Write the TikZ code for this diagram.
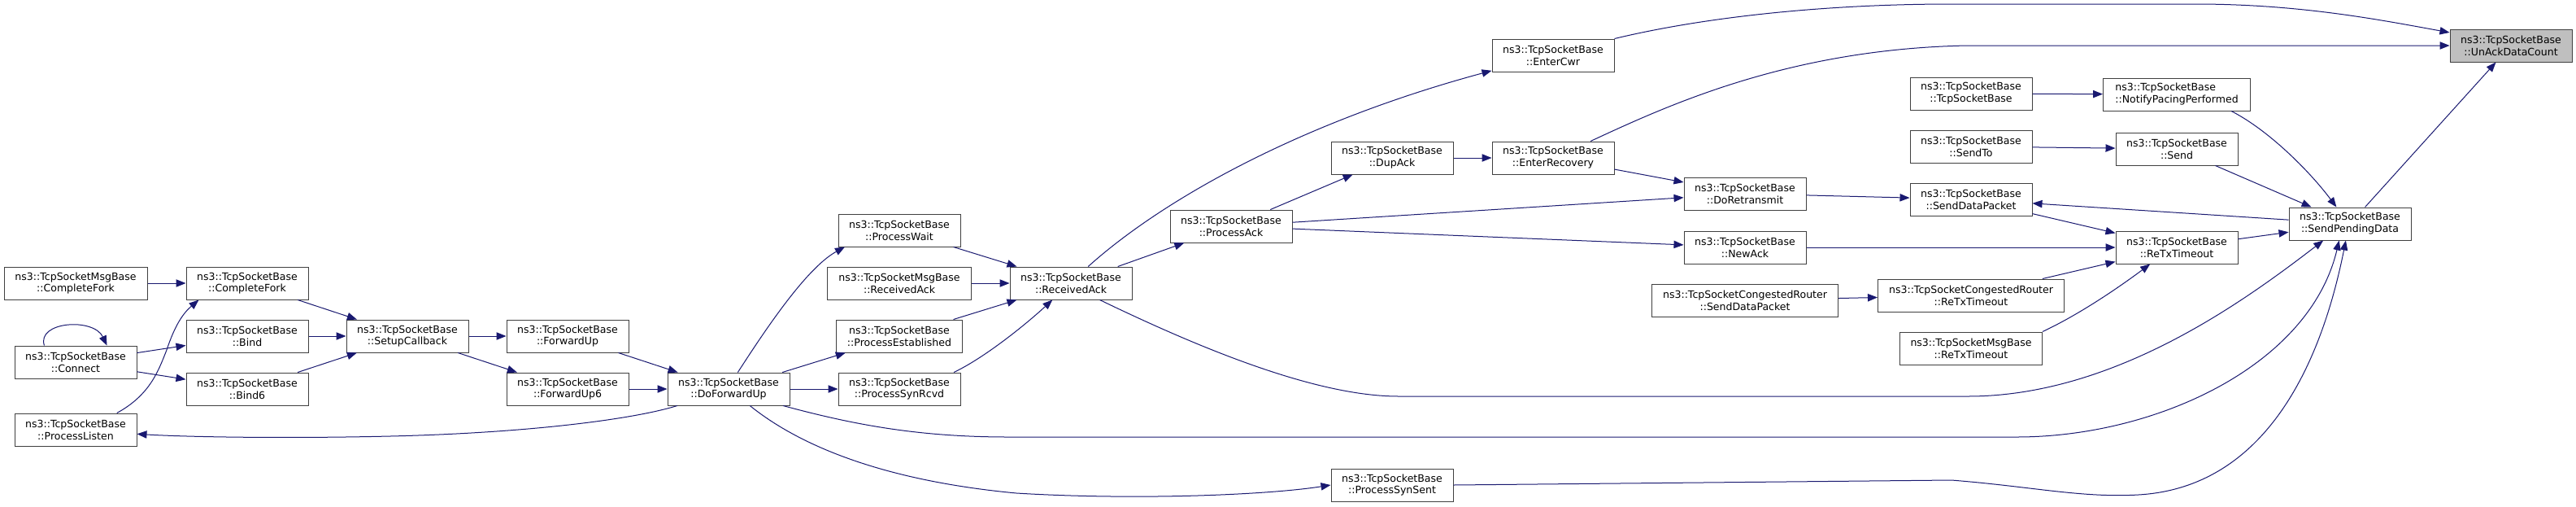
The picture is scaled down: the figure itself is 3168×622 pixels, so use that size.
\documentclass[tikz,border=0pt]{standalone}
\usepackage{fontspec}
\setmainfont{DejaVu Sans}
\usepackage{tikz}
\usetikzlibrary{arrows.meta}
\definecolor{edgeblue}{HTML}{191970}
\definecolor{boxline}{HTML}{404040}
\definecolor{focusgray}{HTML}{BFBFBF}

\begin{document}
\begin{tikzpicture}[x=0.75pt,y=-0.75pt,
	fn/.style={draw=boxline,line width=0.75pt,fill=white,minimum width=112.5pt,minimum height=30pt,inner sep=0pt,align=center,font=\fontsize{9.4}{11.2}\selectfont},
	boxw/.style={minimum width=#1*0.75pt},
	call/.style={draw=edgeblue,line width=0.75pt,-{Triangle[length=9pt,width=7pt]}}]
	\useasboundingbox (0,0) rectangle (3168,622);
	
	%left column
	\node[fn,boxw=176] (msgcompletefork) at (93,348) {ns3::TcpSocketMsgBase\\::CompleteFork};
	\node[fn] (connect) at (93,445) {ns3::TcpSocketBase\\::Connect};
	\node[fn] (processlisten) at (93,528) {ns3::TcpSocketBase\\::ProcessListen};
	\node[fn] (completefork) at (304,348) {ns3::TcpSocketBase\\::CompleteFork};
	\node[fn] (bind) at (304,413) {ns3::TcpSocketBase\\::Bind};
	\node[fn] (bind6) at (304,478) {ns3::TcpSocketBase\\::Bind6};
	\node[fn] (setupcallback) at (501,413) {ns3::TcpSocketBase\\::SetupCallback};
	\node[fn] (forwardup) at (698,413) {ns3::TcpSocketBase\\::ForwardUp};
	\node[fn] (forwardup6) at (698,478) {ns3::TcpSocketBase\\::ForwardUp6};
	\node[fn] (doforwardup) at (896,478) {ns3::TcpSocketBase\\::DoForwardUp};
	
	%middle
	\node[fn] (processwait) at (1106,283) {ns3::TcpSocketBase\\::ProcessWait};
	\node[fn,boxw=177] (msgreceivedack) at (1106,348) {ns3::TcpSocketMsgBase\\::ReceivedAck};
	\node[fn,boxw=155] (processestablished) at (1106,413) {ns3::TcpSocketBase\\::ProcessEstablished};
	\node[fn] (processsynrcvd) at (1106,478) {ns3::TcpSocketBase\\::ProcessSynRcvd};
	\node[fn] (receivedack) at (1317,348) {ns3::TcpSocketBase\\::ReceivedAck};
	\node[fn] (processack) at (1514,278) {ns3::TcpSocketBase\\::ProcessAck};
	\node[fn] (dupack) at (1712,194) {ns3::TcpSocketBase\\::DupAck};
	\node[fn] (processsynsent) at (1712,596) {ns3::TcpSocketBase\\::ProcessSynSent};
	\node[fn] (entercwr) at (1910,68) {ns3::TcpSocketBase\\::EnterCwr};
	\node[fn] (enterrecovery) at (1910,194) {ns3::TcpSocketBase\\::EnterRecovery};
	\node[fn] (doretransmit) at (2146,238) {ns3::TcpSocketBase\\::DoRetransmit};
	\node[fn] (newack) at (2146,304) {ns3::TcpSocketBase\\::NewAck};
	\node[fn,boxw=229] (routersenddata) at (2146,369) {ns3::TcpSocketCongestedRouter\\::SendDataPacket};
	
	%right part
	\node[fn] (tcpsocketbase) at (2424,115) {ns3::TcpSocketBase\\::TcpSocketBase};
	\node[fn] (sendto) at (2424,180) {ns3::TcpSocketBase\\::SendTo};
	\node[fn] (senddatapacket) at (2424,245) {ns3::TcpSocketBase\\::SendDataPacket};
	\node[fn,boxw=229] (routerretx) at (2424,363) {ns3::TcpSocketCongestedRouter\\::ReTxTimeout};
	\node[fn,boxw=175] (msgretx) at (2424,428) {ns3::TcpSocketMsgBase\\::ReTxTimeout};
	\node[fn,boxw=181,align=left] (notifypacing) at (2677,116) {ns3::TcpSocketBase\\::NotifyPacingPerformed};
	\node[fn] (send) at (2677,183) {ns3::TcpSocketBase\\::Send};
	\node[fn] (retx) at (2677,304) {ns3::TcpSocketBase\\::ReTxTimeout};
	\node[fn] (sendpending) at (2890,275) {ns3::TcpSocketBase\\::SendPendingData};
	\node[fn,fill=focusgray] (unack) at (3088,56) {ns3::TcpSocketBase\\::UnAckDataCount};
	
	% Straight calls
	\foreach \a/\b in {msgcompletefork/completefork,connect/bind,connect/bind6,
		completefork/setupcallback,bind/setupcallback,bind6/setupcallback,
		setupcallback/forwardup,setupcallback/forwardup6,forwardup/doforwardup,
		forwardup6/doforwardup,doforwardup/processestablished,doforwardup/processsynrcvd,
		processwait/receivedack,msgreceivedack/receivedack,processestablished/receivedack,
		receivedack/processack,processack/dupack,processack/doretransmit,processack/newack,
		dupack/enterrecovery,enterrecovery/doretransmit,doretransmit/senddatapacket,
		newack/retx,senddatapacket/retx,sendpending/senddatapacket,
		routersenddata/routerretx,routerretx/retx,retx/sendpending,
		tcpsocketbase/notifypacing,sendto/send,send/sendpending,sendpending/unack} {
		\draw[call] (\a) -- (\b);
	}
	
	% Curved calls
	\draw[call] (connect.152) .. controls (45,395) and (115,390) .. (connect.28);
	\draw[call] (processlisten.22) .. controls (185,485) and (195,455) .. (205,430) .. controls (215,400) and (225,385) .. (completefork.199);
	\draw[call] (doforwardup.198) .. controls (780,515) and (650,532) .. (480,536) .. controls (350,539) and (230,537) .. (processlisten.356);
	\draw[call] (doforwardup.61) .. controls (935,415) and (990,330) .. (processwait.197);
	\draw[call] (doforwardup.343) .. controls (1050,522) and (1130,537) .. (1240,537) -- (2480,537) .. controls (2650,537) and (2840,450) .. (sendpending.237);
	\draw[call] (doforwardup.322) .. controls (980,545) and (1080,590) .. (1250,606) .. controls (1400,615) and (1560,608) .. (processsynsent.west);
	\draw[call] (processsynrcvd.17) .. controls (1210,440) and (1260,400) .. (receivedack.222);
	\draw[call] (receivedack.44) .. controls (1430,245) and (1600,150) .. (entercwr.194);
	\draw[call] (receivedack.330) .. controls (1480,430) and (1620,487) .. (1720,487) -- (2420,487) .. controls (2600,487) and (2760,370) .. (sendpending.212);
	\draw[call] (processsynsent.east) -- (2400,590) .. controls (2500,598) and (2560,612) .. (2630,608) .. controls (2800,598) and (2860,420) .. (sendpending.256);
	\draw[call] (enterrecovery.24) .. controls (2050,130) and (2200,60) .. (2420,56) -- (unack.west);
	\draw[call] (entercwr.north east) .. controls (2100,20) and (2250,5) .. (2400,5) -- (2700,5) .. controls (2830,5) and (2930,25) .. (unack.168);
	\draw[call] (msgretx.north east) .. controls (2560,385) and (2610,350) .. (retx.212);
	\draw[call] (notifypacing.343) .. controls (2790,160) and (2840,210) .. (sendpending.129);

\end{tikzpicture}
\end{document}
